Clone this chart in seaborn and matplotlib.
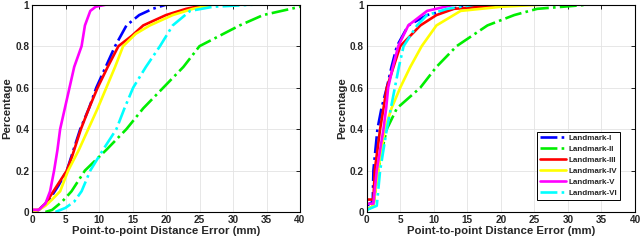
import matplotlib
matplotlib.use("Agg")
import matplotlib.pyplot as plt
import seaborn as sns
import pandas as pd

sns.set_style("whitegrid")
plt.rcParams['font.family'] = ['Liberation Sans', 'DejaVu Sans']
plt.rcParams['font.weight'] = 'bold'

names = ["Landmark-I", "Landmark-II", "Landmark-III", "Landmark-IV", "Landmark-V", "Landmark-VI"]
colors = ["#0000ff", "#00ee00", "#ff0000", "#ffff00", "#ff00ff", "#00ffff"]
styles = ["-.", "-.", "-", "-", "-", "-."]

# Left panel
L_I_x = [0, 1, 2, 3, 4, 5.2, 6, 7.2, 8.5, 9.6, 11, 12.4, 14.1, 16, 18, 20]
L_I_y = [0, 0.01, 0.04, 0.08, 0.13, 0.2, 0.28, 0.4, 0.5, 0.6, 0.7, 0.8, 0.9, 0.95, 0.98, 1.0]
L_II_x = [2, 3, 4.5, 5.9, 7.9, 11.1, 14.1, 16.6, 19.6, 22.6, 25, 28, 31, 34.5, 40]
L_II_y = [0, 0.01, 0.05, 0.1, 0.2, 0.3, 0.4, 0.5, 0.6, 0.7, 0.8, 0.85, 0.9, 0.95, 0.99]
L_III_x = [0, 1, 2, 3, 4, 5.2, 6, 7.3, 8.5, 9.8, 11.3, 12.9, 14.9, 16.6, 20, 23, 26]
L_III_y = [0.01, 0.01, 0.04, 0.09, 0.14, 0.2, 0.27, 0.4, 0.5, 0.6, 0.7, 0.8, 0.85, 0.9, 0.95, 0.98, 1.0]
L_IV_x = [0, 1, 2, 3, 4.2, 5.4, 7, 8.4, 9.8, 11.1, 12.4, 13.6, 15.5, 17.6, 21, 24, 27]
L_IV_y = [0, 0.01, 0.03, 0.06, 0.1, 0.2, 0.3, 0.4, 0.5, 0.6, 0.7, 0.8, 0.86, 0.9, 0.95, 0.98, 1.0]
L_V_x = [0, 1, 2, 2.7, 3.3, 3.8, 4.2, 4.9, 5.6, 6.3, 7.4, 7.9, 8.7, 9.5, 11, 26]
L_V_y = [0.01, 0.01, 0.04, 0.1, 0.2, 0.3, 0.4, 0.5, 0.6, 0.7, 0.8, 0.9, 0.97, 0.99, 1.0, 1.0]
L_VI_x = [3.5, 5, 6.3, 7.4, 8.7, 10.6, 12.6, 13.8, 15.1, 17, 19.1, 21, 23.6, 27, 33]
L_VI_y = [0, 0.02, 0.05, 0.1, 0.2, 0.3, 0.4, 0.5, 0.6, 0.7, 0.8, 0.9, 0.97, 0.99, 1.0]

# Right panel
R_I_x = [0, 0.9, 1.0, 1.3, 1.6, 2.2, 3.0, 3.7, 4.5, 6.2, 9, 14, 20]
R_I_y = [0.03, 0.05, 0.2, 0.3, 0.4, 0.5, 0.6, 0.7, 0.8, 0.9, 0.95, 0.99, 1.0]
R_II_x = [0, 1, 1.7, 2.3, 3, 4.5, 8, 10.4, 13.4, 18, 22, 25.4, 33]
R_II_y = [0.01, 0.03, 0.2, 0.3, 0.4, 0.5, 0.6, 0.7, 0.8, 0.9, 0.95, 0.98, 1.0]
R_III_x = [0, 1, 1.2, 1.6, 2.0, 2.5, 3.0, 4.0, 5, 8, 10.4, 13, 21]
R_III_y = [0.06, 0.06, 0.2, 0.3, 0.4, 0.5, 0.6, 0.7, 0.8, 0.9, 0.95, 0.98, 1.0]
R_IV_x = [0, 1, 1.7, 2.2, 2.7, 3.7, 5, 6.5, 8.2, 10.4, 14, 20, 26]
R_IV_y = [0.01, 0.03, 0.2, 0.3, 0.4, 0.5, 0.6, 0.7, 0.8, 0.9, 0.97, 0.99, 1.0]
R_V_x = [0, 1, 1.5, 2.0, 2.5, 2.9, 3.2, 3.9, 4.7, 6.2, 9, 13]
R_V_y = [0.04, 0.04, 0.2, 0.3, 0.4, 0.5, 0.6, 0.7, 0.8, 0.9, 0.97, 1.0]
R_VI_x = [0, 1.5, 2.0, 2.5, 3.0, 3.6, 4.2, 4.8, 5.5, 7.5, 9, 12, 16]
R_VI_y = [0.01, 0.03, 0.2, 0.3, 0.4, 0.5, 0.6, 0.7, 0.8, 0.9, 0.95, 0.98, 1.0]

left = [(L_I_x, L_I_y), (L_II_x, L_II_y), (L_III_x, L_III_y),
        (L_IV_x, L_IV_y), (L_V_x, L_V_y), (L_VI_x, L_VI_y)]
right = [(R_I_x, R_I_y), (R_II_x, R_II_y), (R_III_x, R_III_y),
         (R_IV_x, R_IV_y), (R_V_x, R_V_y), (R_VI_x, R_VI_y)]

x_ticks = [0, 5, 10, 15, 20, 25, 30, 35, 40]
y_ticks = [0, 0.2, 0.4, 0.6, 0.8, 1.0]
y_labels = ["0", "0.2", "0.4", "0.6", "0.8", "1"]

fig = plt.figure(figsize=(6.4, 2.45), dpi=100)
ax1 = fig.add_axes([32/640, 1 - 212/245, 268/640, 207.3/245])
ax2 = fig.add_axes([366.7/640, 1 - 212/245, 268.3/640, 207.3/245])

for ax, series, show_legend in [(ax1, left, False), (ax2, right, True)]:
    for (xs, ys), name, c, ls in zip(series, names, colors, styles):
        df = pd.DataFrame({"x": xs, "y": ys})
        sns.lineplot(data=df, x="x", y="y", ax=ax, color=c, linestyle=ls,
                     linewidth=1.9, label=name, estimator=None, sort=False,
                     legend=show_legend)
    ax.set_xlim(0, 40)
    ax.set_ylim(0, 1)
    ax.set_xticks(x_ticks)
    ax.set_yticks(y_ticks)
    ax.set_yticklabels(y_labels)
    ax.grid(True, color="#e3e3e3", linewidth=0.6)
    for s in ax.spines.values():
        s.set_color("black")
        s.set_linewidth(0.8)
    ax.tick_params(axis="both", which="both", direction="in", length=3,
                   top=True, right=True, labelsize=7.2, pad=2, width=0.6, color="black")
    for lab in ax.get_xticklabels() + ax.get_yticklabels():
        lab.set_fontweight("bold")
    ax.set_xlabel("Point-to-point Distance Error (mm)", fontsize=8.2, fontweight="bold", labelpad=1)
    ax.set_ylabel("Percentage", fontsize=8.2, fontweight="bold", labelpad=2)

leg = ax2.legend(loc="lower right", bbox_to_anchor=(0.944, 0.058), fontsize=5.8,
                 frameon=True, fancybox=False, framealpha=1, edgecolor="black",
                 handlelength=3.3, borderpad=0.35, labelspacing=0.42, handletextpad=0.3,
                 borderaxespad=0)
leg.get_frame().set_linewidth(0.7)
for t in leg.get_texts():
    t.set_fontweight("bold")

fig.savefig("out.png", dpi=100)
